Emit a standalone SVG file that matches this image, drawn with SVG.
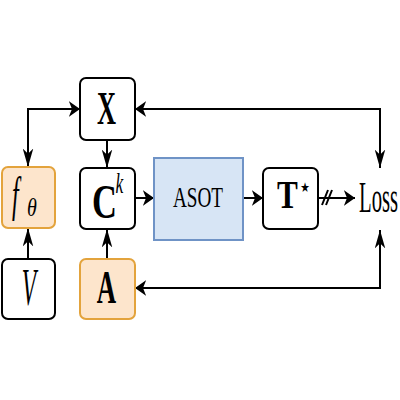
<svg xmlns="http://www.w3.org/2000/svg" width="400" height="400" viewBox="0 0 400 400">
<style>
.box{fill:#ffffff;stroke:#000;stroke-width:2}
.org{fill:#fde5cc;stroke:#e3a33c;stroke-width:2}
.blu{fill:#d7e5f5;stroke:#6f93c6;stroke-width:2}
.ln{fill:none;stroke:#000;stroke-width:2}
text{font-family:"Liberation Serif","DejaVu Serif",serif;fill:#000}
.bf{font-weight:bold}
.it{font-style:italic}
</style>
<defs>
<marker id="ah" markerUnits="userSpaceOnUse" markerWidth="12" markerHeight="16" viewBox="0 0 11 15" refX="10.5" refY="7.5" orient="auto-start-reverse">
<path d="M0,0 L10.5,7.5 L0,15 L3,7.5 Z" fill="#000"/>
</marker>
<marker id="av" markerUnits="userSpaceOnUse" markerWidth="19" markerHeight="11" viewBox="0 0 18 10" refX="17.5" refY="5" orient="auto-start-reverse">
<path d="M0,0 L17.5,5 L0,10 L5,5 Z" fill="#000"/>
</marker>
</defs>
<rect width="400" height="400" fill="#fff"/>
<g id="connectors">
<path class="ln" d="M80,109 H28 V167" marker-start="url(#ah)" marker-end="url(#av)"/>
<path class="ln" d="M135,109 H380 V168" marker-start="url(#ah)" marker-end="url(#av)"/>
<path class="ln" d="M107,140 V168" marker-end="url(#av)"/>
<path class="ln" d="M28,259 V228" marker-end="url(#av)"/>
<path class="ln" d="M107,259 V229" marker-end="url(#av)"/>
<path class="ln" d="M135,198 H154" marker-end="url(#ah)"/>
<path class="ln" d="M243,198 H263" marker-end="url(#ah)"/>
<path class="ln" d="M318,198 H355" marker-end="url(#ah)"/>
<path class="ln" d="M380,230 V288 H135" marker-start="url(#av)" marker-end="url(#ah)"/>
<path class="ln" d="M322,205 L328,190 M326,205 L332,190" stroke-width="1.3"/>
</g>
<g id="node-X">
<rect class="box" x="80" y="78" width="55" height="62" rx="6"/>
<text class="bf" font-size="47" text-anchor="middle" transform="translate(106.5,124) scale(0.56,1)">X</text>
</g>
<g id="node-ftheta">
<rect class="org" x="2" y="167" width="53" height="61" rx="6"/>
<text class="it" font-size="48" transform="translate(12,211) scale(0.5,1)">f</text>
<text class="it" font-size="25" transform="translate(27,216) scale(0.8,1)">θ</text>
</g>
<g id="node-Ck">
<rect class="box" x="80" y="168" width="55" height="61" rx="6"/>
<text class="bf" font-size="48" text-anchor="middle" transform="translate(104.5,218) scale(0.72,1)">C</text>
<text class="it" font-size="29" transform="translate(115.5,193) scale(0.6,1)">k</text>
</g>
<g id="node-V">
<rect class="box" x="2" y="259" width="53" height="60" rx="6"/>
<text class="it" font-size="52" text-anchor="middle" transform="translate(29,305) scale(0.45,1)">V</text>
</g>
<g id="node-A">
<rect class="org" x="80" y="259" width="55" height="60" rx="6"/>
<text class="bf" font-size="47" text-anchor="middle" transform="translate(106.3,303) scale(0.57,1)">A</text>
</g>
<g id="node-ASOT">
<rect class="blu" x="154" y="158" width="89" height="82"/>
<text font-size="30" text-anchor="middle" transform="translate(198,207) scale(0.64,1)">ASOT</text>
</g>
<g id="node-T">
<rect class="box" x="263" y="168" width="55" height="61" rx="6"/>
<text class="bf" font-size="39" text-anchor="middle" transform="translate(287.5,208) scale(0.8,1)">T</text>
<text font-size="27" text-anchor="middle" style="font-family:'DejaVu Sans',sans-serif" transform="translate(305,196) scale(0.8,1)">⋆</text>
</g>
<g id="node-Loss">
<text font-size="44" transform="translate(359,212) scale(0.47,1)">Loss</text>
</g>
</svg>
